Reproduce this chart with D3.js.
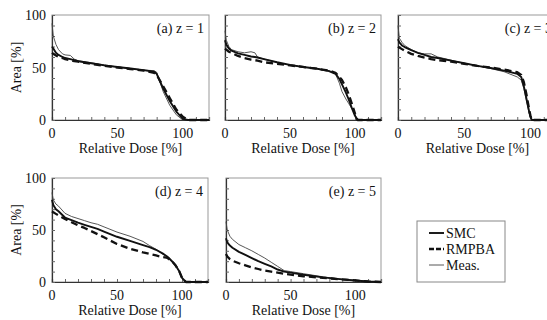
<!DOCTYPE html>
<html>
<head>
<meta charset="utf-8">
<script src="https://cdn.jsdelivr.net/npm/d3@7"></script>
<style>
  body { margin: 0; background: #fff; }
</style>
</head>
<body>
<svg id="chart" width="547" height="320" font-family="'Liberation Serif', 'Times New Roman', Times, serif"></svg>
<script>
// relative dose [%] sample points and area [%] for each panel
const doseA = [0, 1, 3, 5, 8, 10, 14, 17, 20, 30, 40, 50, 60, 70, 78, 80, 85, 90, 95, 100, 104, 120];
const smcA = [70, 68, 64, 62, 60, 59, 58, 57, 56, 54, 52, 50.5, 49, 47.5, 46, 44, 30, 18, 8, 1, 0, 0];
const rmpbaA = [64, 63, 61.5, 60, 59, 58, 57, 56, 55.5, 53.5, 51.5, 50, 48.5, 47, 45, 43, 32, 21, 10, 3, 0, 0];
const measA = [92, 80, 72, 67, 63, 62, 61.5, 58, 56.5, 54.5, 52.5, 50.5, 49, 47.5, 47, 45.5, 27, 14, 5, 0, 0, 0];

const doseB = [0, 1, 3, 5, 10, 15, 20, 23, 25, 30, 40, 50, 60, 70, 80, 85, 88, 90, 93, 95, 98, 100, 102, 120];
const smcB = [76, 72, 68, 66, 63.5, 62, 60.5, 60, 59.5, 58, 55, 52.5, 50.5, 49, 46.5, 44, 39, 34, 26, 20, 10, 4, 0, 0];
const rmpbaB = [68, 67, 65, 64, 61, 59, 57.5, 57, 56.5, 55, 53.5, 52, 50.5, 49, 47, 45, 41, 38, 31, 25, 14, 6, 0, 0];
const measB = [85, 76, 70, 67, 65, 64, 65, 64, 60, 58, 55, 52, 50.5, 49, 47, 44, 35, 27, 20, 16, 10, 5, 0, 0];

const doseC = [0, 1, 3, 5, 10, 15, 20, 25, 30, 40, 50, 60, 70, 80, 90, 93, 95, 97, 99, 100, 101, 120];
const smcC = [77, 74, 71, 69.5, 66.5, 64, 62, 60, 59, 56.5, 54, 51.5, 49.5, 47, 44, 41, 32, 20, 8, 3, 0, 0];
const rmpbaC = [70, 69, 67.5, 66, 63, 61, 59.5, 58, 57, 55.5, 53.5, 51.5, 50, 48, 45.5, 43, 36, 24, 10, 4, 0, 0];
const measC = [90, 78, 74, 71, 67, 64, 63, 63, 60, 57, 54, 51.5, 49, 46, 41, 38, 30, 18, 6, 2, 0, 0];

const doseD = [0, 1, 3, 5, 10, 15, 20, 25, 30, 35, 40, 50, 60, 70, 75, 80, 85, 88, 90, 93, 95, 98, 100, 103, 120];
const smcD = [79, 74, 70, 68, 62, 59.5, 57, 55, 53, 51, 48.5, 43.5, 39.5, 35.5, 33.5, 31, 27.5, 25, 23, 19, 16, 10, 4, 0, 0];
const rmpbaD = [68, 67, 65.5, 64, 60.5, 57.5, 54.5, 52, 49, 46, 43, 36.5, 32, 28.5, 27, 25.5, 24, 23.5, 22, 19, 16, 10, 4, 0, 0];
const measD = [86, 79, 75, 73, 66, 63, 61, 59, 57, 55.5, 53, 48, 44, 39, 35, 31.5, 27, 25, 22, 19, 16, 10, 4, 0, 0];

const doseE = [0, 1, 3, 5, 10, 15, 20, 25, 30, 35, 40, 45, 50, 60, 75, 90, 100, 110, 120];
const smcE = [42, 38, 35, 33, 29, 26, 23, 20, 17.5, 15, 12, 10, 9, 7, 4.5, 2.5, 1.5, 0.5, 0];
const rmpbaE = [27, 24.5, 22, 20.5, 18, 16, 14, 12.5, 11, 10, 9, 8, 7, 5.5, 4, 2.5, 1.5, 0.5, 0];
const measE = [58, 50, 44, 41, 36, 33, 30, 26.5, 23, 19, 15, 11, 10, 8, 5, 2.5, 1.5, 0.5, 0];

const panelLabels = ['(a) z = 1', '(b) z = 2', '(c) z = 3', '(d) z = 4', '(e) z = 5'];
const seriesNames = ['SMC', 'RMPBA', 'Meas.'];
const xTicks = [0, 50, 100];
const yTicks = [0, 50, 100];

const panels = [
  { label: panelLabels[0], dose: doseA, vals: [smcA, rmpbaA, measA], x: 52, y: 15, w: 157, h: 105, yAxis: true },
  { label: panelLabels[1], dose: doseB, vals: [smcB, rmpbaB, measB], x: 225, y: 15, w: 156, h: 105 },
  { label: panelLabels[2], dose: doseC, vals: [smcC, rmpbaC, measC], x: 398, y: 15, w: 159, h: 105 },
  { label: panelLabels[3], dose: doseD, vals: [smcD, rmpbaD, measD], x: 52, y: 178, w: 156, h: 104, yAxis: true },
  { label: panelLabels[4], dose: doseE, vals: [smcE, rmpbaE, measE], x: 226, y: 178, w: 155, h: 104 }
];

const styles = [
  { width: 1.9, dash: null, color: '#111' },
  { width: 2.3, dash: '7,4', color: '#111' },
  { width: 0.9, dash: null, color: '#444' }
];

const svg = d3.select('#chart');
const font = 14;
const ink = '#111';

panels.forEach(p => {
  const g = svg.append('g').attr('transform', `translate(${p.x},${p.y})`);
  const x = d3.scaleLinear().domain([0, 120]).range([0, p.w]);
  const y = d3.scaleLinear().domain([0, 100]).range([p.h, 0]);

  // light frame on top / right
  g.append('rect')
    .attr('width', p.w).attr('height', p.h)
    .attr('fill', 'none').attr('stroke', '#999').attr('stroke-width', 1);

  // inner minor ticks every 10
  const xAx = g.append('g').attr('transform', `translate(0,${p.h})`)
    .call(d3.axisBottom(x).tickValues(d3.range(0, 121, 10)).tickSize(-3).tickFormat(''));
  const yAx = g.append('g')
    .call(d3.axisLeft(y).tickValues(d3.range(0, 101, 10)).tickSize(-3).tickFormat(''));
  [xAx, yAx].forEach(a => {
    a.select('.domain').attr('stroke', '#333').attr('stroke-width', 1.2);
    a.selectAll('.tick line').attr('stroke', '#666');
  });

  xTicks.forEach(t => {
    g.append('text').attr('x', x(t)).attr('y', p.h + 18)
      .attr('text-anchor', 'middle').attr('font-size', font).attr('fill', ink).text(t);
  });
  g.append('text').attr('x', p.w / 2).attr('y', p.h + 33)
    .attr('text-anchor', 'middle').attr('font-size', font).attr('fill', ink).text('Relative Dose [%]');

  if (p.yAxis) {
    yTicks.forEach(t => {
      g.append('text').attr('x', -6).attr('y', y(t) + 5)
        .attr('text-anchor', 'end').attr('font-size', font).attr('fill', ink).text(t);
    });
    g.append('text')
      .attr('transform', `translate(${-31},${p.h / 2}) rotate(-90)`)
      .attr('text-anchor', 'middle').attr('font-size', font).attr('fill', ink).text('Area [%]');
  }

  g.append('text').attr('x', p.w - 5).attr('y', 18)
    .attr('text-anchor', 'end').attr('font-size', font).attr('fill', ink).text(p.label);

  const line = d3.line().x(d => x(d[0])).y(d => y(d[1]));
  // draw Meas first so model lines sit on top
  [2, 0, 1].forEach(i => {
    const pts = p.dose.map((d, k) => [d, p.vals[i][k]]);
    g.append('path').datum(pts)
      .attr('d', line)
      .attr('fill', 'none')
      .attr('stroke', styles[i].color)
      .attr('stroke-width', styles[i].width)
      .attr('stroke-dasharray', styles[i].dash)
      .attr('stroke-linejoin', 'round');
  });
});

// legend
const leg = svg.append('g').attr('transform', 'translate(417,221)');
leg.append('rect').attr('width', 88).attr('height', 61)
  .attr('fill', '#fff').attr('stroke', '#888');
seriesNames.forEach((name, i) => {
  const yy = 12 + i * 16;
  leg.append('line').attr('x1', 12).attr('x2', 27).attr('y1', yy).attr('y2', yy)
    .attr('stroke', styles[i].color).attr('stroke-width', styles[i].width)
    .attr('stroke-dasharray', i === 1 ? '5,2' : null);
  leg.append('text').attr('x', 29).attr('y', yy + 5)
    .attr('font-size', font).attr('fill', ink).text(name);
});
</script>
</body>
</html>
